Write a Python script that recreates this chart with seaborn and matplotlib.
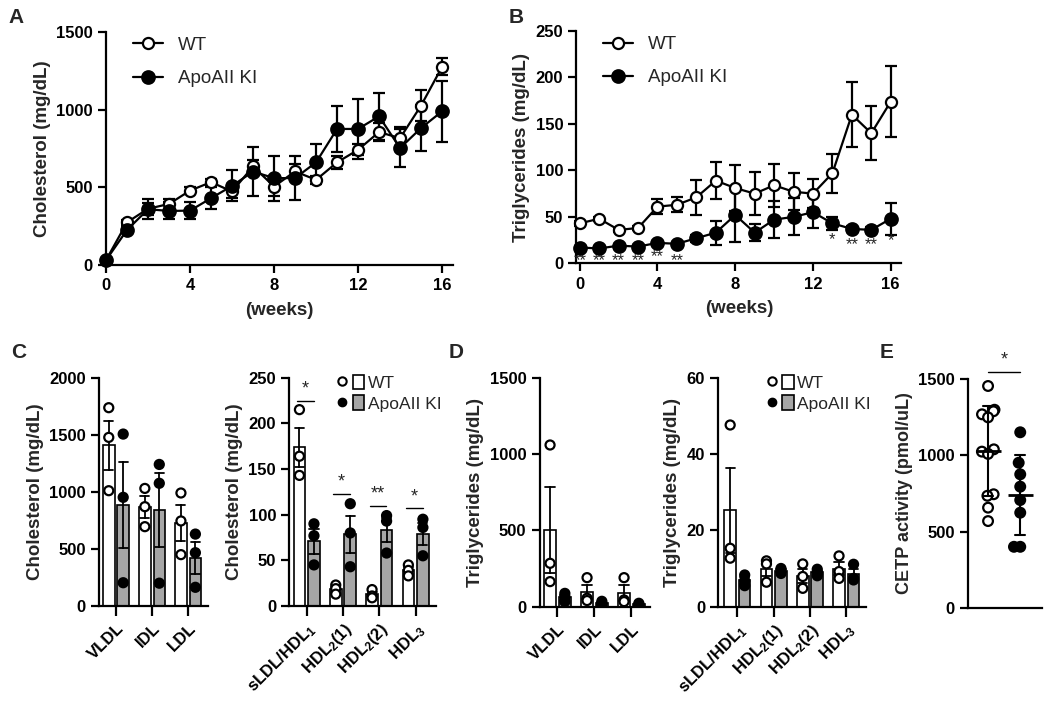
import numpy as np
import pandas as pd
import matplotlib
matplotlib.use("Agg")
import matplotlib.pyplot as plt
import seaborn as sns
from matplotlib.lines import Line2D
from matplotlib.patches import Patch
from matplotlib.legend_handler import HandlerTuple

# ---------------- data ----------------
weeks = list(range(17))
A_wt_mean = [32, 275, 362, 393, 479, 533, 473, 634, 505, 602, 548, 660, 741, 855, 816, 1025, 1274]
A_wt_err = [10, 15, 40, 30, 20, 20, 45, 40, 60, 50, 25, 40, 35, 60, 70, 100, 55]
A_ki_mean = [32, 226, 359, 348, 350, 430, 509, 601, 559, 559, 660, 875, 875, 956, 752, 881, 988]
A_ki_err = [10, 20, 65, 55, 57, 70, 100, 160, 145, 140, 120, 145, 195, 150, 120, 150, 195]

B_wt_mean = [43, 48, 36, 38, 61, 63, 71, 89, 81, 75, 84, 77, 75, 97, 160, 140, 174]
B_wt_err = [3, 2, 2, 2, 8, 8, 19, 20, 25, 23, 23, 20, 16, 21, 35, 29, 38]
B_ki_mean = [17, 16, 19, 18, 22, 21, 27, 33, 52, 33, 47, 50, 55, 43, 37, 36, 48]
B_ki_err = [2, 2, 2, 2, 2, 2, 4, 13, 29, 9, 20, 20, 17, 7, 3, 3, 17]
B_sig = ['**', '**', '**', '**', '**', '**', '', '', '', '', '', '', '', '*', '**', '**', '*']
B_sig_y = [3, 3, 3, 3, 7, 3, 0, 0, 0, 0, 0, 0, 0, 25, 20, 20, 24]

groups = ['WT', 'ApoAII KI']

C1_cats = ['VLDL', 'IDL', 'LDL']
C1_wt = [[1737, 1477, 1010], [1030, 870, 695], [990, 745, 450]]
C1_ki = [[1506, 952, 204], [1240, 1075, 200], [630, 467, 164]]

C2_cats = ['sLDL/HDL$_1$', 'HDL$_2$(1)', 'HDL$_2$(2)', 'HDL$_3$']
C2_wt = [[215, 164, 143], [23, 19, 13], [18, 11, 9], [45, 39, 33]]
C2_ki = [[90, 77, 45], [112, 80, 43], [99, 93, 58], [95, 86, 55]]
C2_sig = ['*', '*', '**', '*']
C2_sig_y = [225, 123, 110, 107]

D1_cats = ['VLDL', 'IDL', 'LDL']
D1_wt = [[1059, 284, 164], [190, 55, 40], [190, 44, 33]]
D1_ki = [[87, 65, 33], [35, 22, 13], [22, 13, 9]]

D2_cats = C2_cats
D2_wt = [[47.6, 15.3, 12.7], [12.0, 11.2, 6.4], [11.2, 7.9, 4.8], [13.3, 9.2, 7.4]]
D2_ki = [[8.3, 6.8, 5.5], [10.0, 9.4, 8.7], [9.8, 9.0, 8.1], [11.1, 7.4, 7.0]]

E_wt = [1456, 1300, 1290, 1270, 1250, 1040, 1025, 1010, 745, 735, 657, 569]
E_ki = [1152, 952, 876, 795, 707, 624, 400, 400]
E_sig = '*'
E_sig_y = 1550

# ---------------- style ----------------
sns.set_theme(style='ticks')
plt.rcParams['font.family'] = ['Liberation Sans', 'DejaVu Sans']
plt.rcParams['font.weight'] = 'bold'
plt.rcParams['axes.labelweight'] = 'bold'
plt.rcParams['mathtext.fontset'] = 'custom'
plt.rcParams['mathtext.rm'] = 'Liberation Sans:bold'
plt.rcParams['mathtext.bf'] = 'Liberation Sans:bold'
plt.rcParams['mathtext.default'] = 'rm'

TICK = 12
LAB = 13.5
LW = 1.6

fig = plt.figure(figsize=(10.5, 7.05), dpi=100)


def style_axes(ax):
    sns.despine(ax=ax)
    for s in ('left', 'bottom'):
        ax.spines[s].set_linewidth(LW)
        ax.spines[s].set_color('black')
    ax.tick_params(width=LW, length=6, labelsize=TICK, colors='black')


def long_df(cats, wt, ki):
    rows = []
    for c, vals in zip(cats, wt):
        for v in vals:
            rows.append((c, 'WT', v))
    for c, vals in zip(cats, ki):
        for v in vals:
            rows.append((c, 'ApoAII KI', v))
    return pd.DataFrame(rows, columns=['cat', 'group', 'val'])


def time_panel(ax, wt_m, wt_e, ki_m, ki_e, ylim, yticks, ylabel, xlim):
    ax.errorbar(weeks, wt_m, yerr=wt_e, fmt='none', ecolor='black', elinewidth=LW,
                capsize=4, capthick=LW, clip_on=False, zorder=2)
    ax.errorbar(weeks, ki_m, yerr=ki_e, fmt='none', ecolor='black', elinewidth=LW,
                capsize=4, capthick=LW, clip_on=False, zorder=2)
    sns.lineplot(x=weeks, y=wt_m, ax=ax, color='black', lw=LW, marker='o', markersize=8,
                 markerfacecolor='white', markeredgecolor='black', markeredgewidth=LW,
                 label='WT', clip_on=False, zorder=3)
    sns.lineplot(x=weeks, y=ki_m, ax=ax, color='black', lw=LW, marker='o', markersize=9,
                 markerfacecolor='black', markeredgecolor='black', markeredgewidth=LW,
                 label='ApoAII KI', clip_on=False, zorder=4)
    ax.set_xlim(*xlim)
    ax.set_ylim(*ylim)
    ax.set_xticks([0, 4, 8, 12, 16])
    ax.set_yticks(yticks)
    ax.set_xlabel('(weeks)', fontsize=LAB, labelpad=6)
    ax.set_ylabel(ylabel, fontsize=LAB)
    style_axes(ax)
    ax.legend(loc='upper left', bbox_to_anchor=(0.03, 1.05), frameon=False,
              prop={'weight': 'normal', 'size': 13.5}, handlelength=1.6, labelspacing=0.85)


def bar_panel(ax, cats, wt, ki, ylim, yticks, ylabel, xlim):
    df = long_df(cats, wt, ki)
    sns.barplot(data=df, x='cat', y='val', hue='group', order=cats, hue_order=groups,
                palette={'WT': 'white', 'ApoAII KI': '#a6a6a6'}, edgecolor='black',
                linewidth=1.2, errorbar='se', capsize=0.5, gap=0.2,
                err_kws={'color': 'black', 'linewidth': 1.3}, ax=ax, legend=False)
    sns.stripplot(data=df, x='cat', y='val', hue='group', order=cats, hue_order=groups,
                  palette={'WT': 'white', 'ApoAII KI': 'black'}, edgecolor='black',
                  linewidth=1.6, size=6.5, dodge=True, jitter=False, ax=ax, legend=False,
                  zorder=5)
    ax.set_xlim(*xlim)
    ax.set_ylim(*ylim)
    ax.set_yticks(yticks)
    ax.set_xlabel('')
    ax.set_ylabel(ylabel, fontsize=LAB)
    style_axes(ax)
    ax.set_xticks(range(len(cats)))
    ax.set_xticklabels(cats, rotation=45, ha='right', rotation_mode='anchor', fontsize=TICK)
    ax.tick_params(axis='x', length=7)


def bar_legend(ax, x, y):
    h_wt = (Line2D([], [], marker='o', ls='none', markerfacecolor='white', markeredgecolor='black',
                   markeredgewidth=1.5, markersize=6),
            Patch(facecolor='white', edgecolor='black', linewidth=1.2))
    h_ki = (Line2D([], [], marker='o', ls='none', markerfacecolor='black', markeredgecolor='black',
                   markersize=6),
            Patch(facecolor='#a6a6a6', edgecolor='black', linewidth=1.2))
    ax.legend([h_wt, h_ki], groups, handler_map={tuple: HandlerTuple(ndivide=None, pad=0.25)},
              loc='upper left', bbox_to_anchor=(x, y), frameon=False, handlelength=1.6,
              handleheight=0.9, handletextpad=0.2, labelspacing=0.25, borderpad=0.1,
              borderaxespad=0.0, prop={'weight': 'normal', 'size': 12.5})


# ---------------- A ----------------
axA = fig.add_axes([0.101, 0.624, 0.330, 0.331])
time_panel(axA, A_wt_mean, A_wt_err, A_ki_mean, A_ki_err, (0, 1500), [0, 500, 1000, 1500],
           'Cholesterol (mg/dL)', (0, 16.5))

# ---------------- B ----------------
axB = fig.add_axes([0.549, 0.6265, 0.3095, 0.3295])
time_panel(axB, B_wt_mean, B_wt_err, B_ki_mean, B_ki_err, (0, 250), [0, 50, 100, 150, 200, 250],
           'Triglycerides (mg/dL)', (-0.17, 16.55))
for w, s, yv in zip(weeks, B_sig, B_sig_y):
    if s:
        axB.text(w, yv, s, ha='center', va='center', fontsize=12, fontweight='normal',
                 clip_on=False)

# ---------------- C ----------------
axC1 = fig.add_axes([0.0943, 0.1404, 0.1038, 0.3239])
bar_panel(axC1, C1_cats, C1_wt, C1_ki, (0, 2000), [0, 500, 1000, 1500, 2000],
          'Cholesterol (mg/dL)', (-0.47, 2.55))

axC2 = fig.add_axes([0.2755, 0.1404, 0.1397, 0.3239])
bar_panel(axC2, C2_cats, C2_wt, C2_ki, (0, 250), [0, 50, 100, 150, 200, 250],
          'Cholesterol (mg/dL)', (-0.48, 3.56))
for i, (s, yv) in enumerate(zip(C2_sig, C2_sig_y)):
    axC2.plot([i - 0.27, i + 0.19], [yv, yv], color='black', lw=1.0)
    axC2.text(i - 0.04, yv + 3, s, ha='center', va='bottom', fontsize=13, fontweight='normal')
bar_legend(axC2, 0.31, 1.02)

# ---------------- D ----------------
axD1 = fig.add_axes([0.514, 0.1395, 0.105, 0.3248])
bar_panel(axD1, D1_cats, D1_wt, D1_ki, (0, 1500), [0, 500, 1000, 1500],
          'Triglycerides (mg/dL)', (-0.48, 2.5))

axD2 = fig.add_axes([0.684, 0.1395, 0.141, 0.3248])
bar_panel(axD2, D2_cats, D2_wt, D2_ki, (0, 60), [0, 20, 40, 60],
          'Triglycerides (mg/dL)', (-0.53, 3.55))
bar_legend(axD2, 0.31, 1.02)

# ---------------- E ----------------
axE = fig.add_axes([0.922, 0.138, 0.0705, 0.324])
dfE = pd.DataFrame({'group': ['WT'] * len(E_wt) + ['ApoAII KI'] * len(E_ki),
                    'val': E_wt + E_ki})
sns.swarmplot(data=dfE, x='group', y='val', hue='group', order=groups, hue_order=groups,
              palette={'WT': 'white', 'ApoAII KI': 'black'}, edgecolor='black', linewidth=1.6,
              size=7, ax=axE, legend=False, zorder=3)
swarm_colls = list(axE.collections)
sns.pointplot(data=dfE, x='group', y='val', order=groups, errorbar='sd', color='black',
              markers='_', linestyle='none', capsize=0.3, markersize=18, markeredgewidth=2,
              err_kws={'linewidth': 1.5}, ax=axE, zorder=4)
axE.set_xlim(-0.62, 1.68)
axE.set_ylim(0, 1500)
axE.set_yticks([0, 500, 1000, 1500])
axE.set_xticks([])
axE.set_xlabel('')
axE.set_ylabel('CETP activity (pmol/uL)', fontsize=13)
style_axes(axE)
axE.plot([0, 1], [E_sig_y, E_sig_y], color='black', lw=1.0, clip_on=False)
axE.text(0.5, E_sig_y + 20, E_sig, ha='center', va='bottom', fontsize=13, fontweight='normal')

# ---------------- panel letters ----------------
for lab, x, y in [('A', 0.008, 0.988), ('B', 0.484, 0.988), ('C', 0.011, 0.513),
                  ('D', 0.427, 0.513), ('E', 0.838, 0.513)]:
    fig.text(x, y, lab, fontsize=15, fontweight='bold', va='top', ha='left')

# compress the beeswarm spread (points overlap in the reference)
fig.canvas.draw()
for coll in swarm_colls:
    off = np.asarray(coll.get_offsets()).copy()
    if len(off) > 1:
        centre = np.round(off[:, 0])
        off[:, 0] = centre + (off[:, 0] - centre) * 0.5
        coll.set_offsets(off)
    if 'draw' in coll.__dict__:
        del coll.__dict__['draw']

fig.savefig('out.png', dpi=100)
